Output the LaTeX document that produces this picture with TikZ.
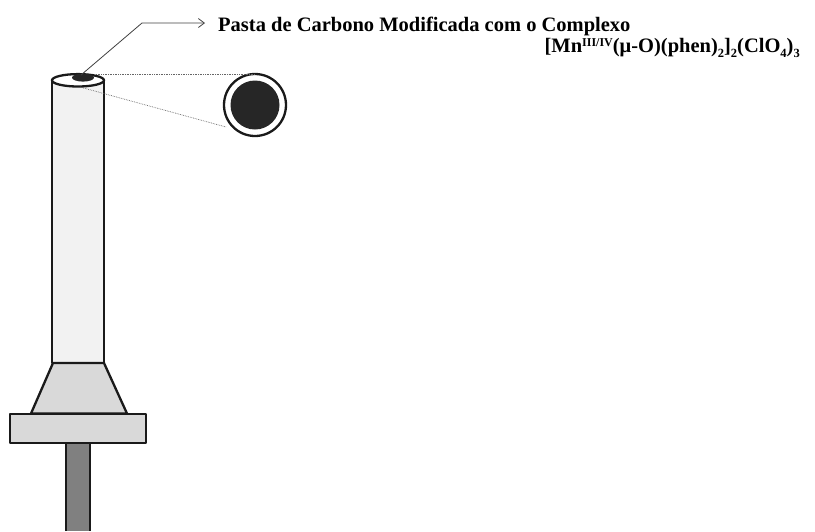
\documentclass[tikz,border=0pt]{standalone}
\usepackage{fontspec}
\setmainfont{Liberation Serif}
\usetikzlibrary{arrows.meta}

\definecolor{tubefill}{HTML}{F2F2F2}
\definecolor{partfill}{HTML}{D9D9D9}
\definecolor{rodfill}{HTML}{808080}
\definecolor{pastefill}{HTML}{262626}
\definecolor{edge}{HTML}{1A1A1A}

% compact raised and lowered indices for the formula
\newcommand{\upidx}[1]{\raisebox{0.3em}{\fontsize{12}{12}\selectfont #1}}
\newcommand{\lowidx}[1]{\raisebox{-0.22em}{\fontsize{12.5}{12}\selectfont #1}}

\tikzset{
  body/.style={draw=edge, line width=2.3pt, line join=round},
  guide/.style={draw=gray!80!black, line width=0.7pt, densely dotted},
  leader/.style={draw=black!75, line width=0.8pt},
  caption/.style={font=\bfseries\fontsize{20.5}{24}\selectfont, inner sep=0pt},
}

\begin{document}
\begin{tikzpicture}[x=1pt, y=-1pt]
  \useasboundingbox (0,0) rectangle (815,531);

  % electrode tube
  \path[body, fill=tubefill] (52,80) -- (52,363) -- (104,363) -- (104,80);
  \path[body, fill=white] (78,80.3) ellipse [x radius=26, y radius=6.2];
  \fill[pastefill] (83,77.6) ellipse [x radius=11, y radius=4];
  \coordinate (paste) at (81,75);
  \coordinate (rimtop) at (96,74);
  \coordinate (rimlow) at (80,87);

  % conical collar and flange
  \path[body, fill=partfill] (53,363) -- (104,363) -- (127,413.5) -- (31,413.5) -- cycle;
  \path[body, fill=partfill] (10,414) rectangle (146,443);

  % contact rod
  \fill[rodfill] (66,443) rectangle (90,531);
  \draw[body] (66,531) -- (66,443) -- (90,443) -- (90,531);

  % magnified view of the electrode surface
  \node[circle, body, fill=white, minimum size=62pt, inner sep=0pt] (zoomview) at (255,105) {};
  \fill[pastefill] (zoomview.center) circle [radius=24.5];
  \coordinate (ztop) at (255,74);
  \coordinate (zlow) at (226,127);
  \draw[guide] (rimtop) -- (ztop);
  \draw[guide] (rimlow) -- (zlow);

  % label with leader arrow
  \node[caption, anchor=base west] (label) at (218,31)
    {Pasta de Carbono Modificada com o Complexo};
  \node[caption, anchor=base east] (formula) at (800,52.5)
    {[Mn\upidx{III/IV}(μ-O)(phen)\lowidx{2}]\lowidx{2}(ClO\lowidx{4})\lowidx{3}};
  \coordinate (bend) at (142,23);
  \coordinate (tip) at (205,23);
  \draw[leader, -{Straight Barb[length=6pt, width=9pt]}] (paste) -- (bend) -- (tip);
\end{tikzpicture}
\end{document}
